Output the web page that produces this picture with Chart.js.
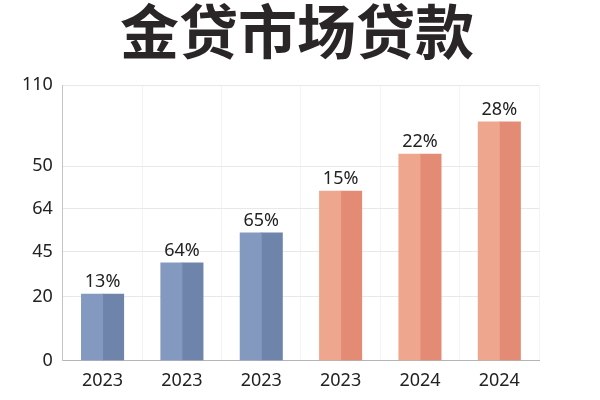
<!DOCTYPE html>
<html>
<head>
<meta charset="utf-8">
<script src="https://cdn.jsdelivr.net/npm/chart.js@4"></script>
<style>
  html, body { margin: 0; padding: 0; background: #ffffff; }
  #wrap { position: relative; width: 600px; height: 400px; }
</style>
</head>
<body>
<div id="wrap"><canvas id="loanChart"></canvas></div>
<script>
// chart data
const chartTitle = '金贷市场贷款';
const categories = ['2023', '2023', '2023', '2023', '2024', '2024'];
const barValues = [26.4, 38.9, 50.9, 67.6, 82.3, 95.2];
const barLabels = ['13%', '64%', '65%', '15%', '22%', '28%'];
const tickValues = [0, 25.5, 43.3, 60.7, 77.6, 110];
const tickLabels = ['0', '20', '45', '64', '50', '110'];

const lightColors = ['#8399c0', '#8399c0', '#8399c0', '#eea78e', '#eea78e', '#eea78e'];
const darkColors = ['#6f84ab', '#6f84ab', '#6f84ab', '#e38b74', '#e38b74', '#e38b74'];

// the % label once above the middle of each two-tone bar, plus the page title
const labelPlugin = {
  id: 'labels',
  afterDraw(chart) {
    const ctx = chart.ctx;
    const meta = chart.getDatasetMeta(0);
    ctx.save();
    ctx.font = '18px "Noto Sans"';
    ctx.fillStyle = '#222222';
    ctx.textAlign = 'center';
    ctx.textBaseline = 'bottom';
    meta.data.forEach((bar, i) => {
      ctx.fillText(barLabels[i], bar.x + bar.width / 2, bar.y - 3);
    });

    // title is centred on the whole canvas, not on the plot
    ctx.font = 'bold 59px "Noto Sans CJK SC"';
    ctx.fillStyle = '#2a2627';
    ctx.textBaseline = 'middle';
    ctx.fillText(chartTitle, chart.width / 2 - 3, 31.5);
    ctx.restore();
  }
};

const ctx = document.getElementById('loanChart').getContext('2d');
new Chart(ctx, {
  type: 'bar',
  data: {
    labels: categories,
    datasets: [{
      data: barValues,
      backgroundColor: lightColors,
      borderWidth: 0,
      inflateAmount: 0.5,
      barPercentage: 1,
      categoryPercentage: 0.53
    }, {
      data: barValues,
      backgroundColor: darkColors,
      borderWidth: 0,
      inflateAmount: 0.5,
      barPercentage: 1,
      categoryPercentage: 0.53
    }]
  },
  options: {
    responsive: true,
    maintainAspectRatio: false,
    animation: false,
    layout: { padding: { left: 12, right: 61, top: 85, bottom: -2 } },
    scales: {
      x: {
        grid: { color: '#f3f3f3', drawTicks: false },
        border: { color: '#b5b5b5' },
        ticks: {
          color: '#222222',
          padding: 10,
          font: { family: 'Noto Sans', size: 18 }
        }
      },
      y: {
        min: 0,
        max: 110,
        afterBuildTicks(axis) {
          axis.ticks = tickValues.map(v => ({ value: v }));
        },
        grid: { color: '#e8e8e8', drawTicks: false },
        border: { color: '#c4c4c4' },
        ticks: {
          color: '#222222',
          padding: 10,
          font: { family: 'Noto Sans', size: 18 },
          callback: function(value, index) {
            return tickLabels[index];
          }
        }
      }
    },
    plugins: {
      legend: { display: false },
      tooltip: { enabled: false },
      title: { display: false }
    }
  },
  plugins: [labelPlugin]
});
</script>
</body>
</html>
